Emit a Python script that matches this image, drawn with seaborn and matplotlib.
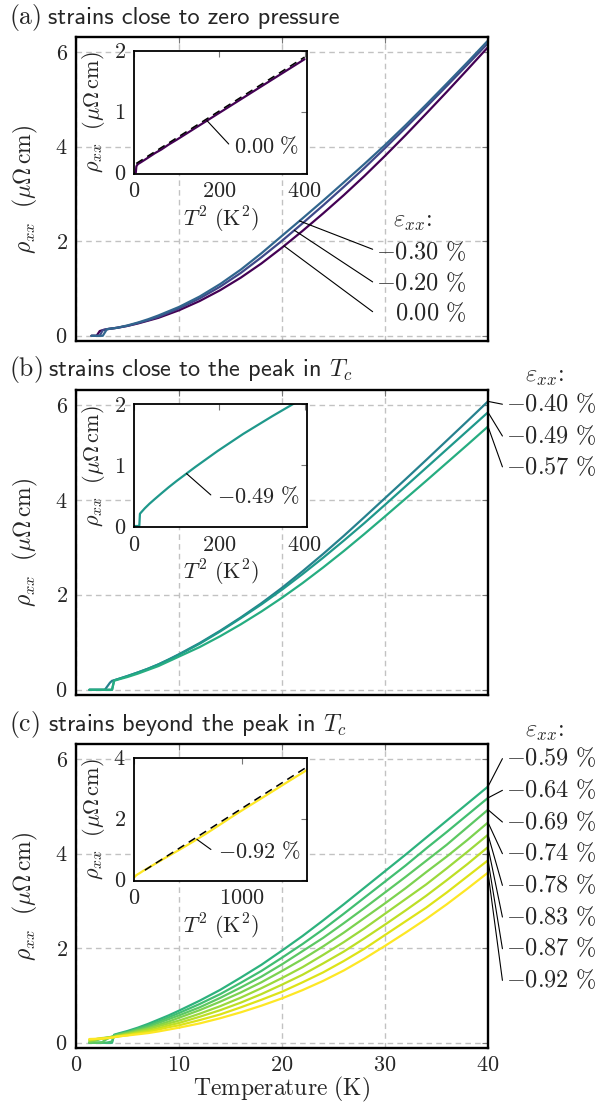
import numpy as np
import pandas as pd
import matplotlib
matplotlib.use("Agg")
import matplotlib.pyplot as plt
import seaborn as sns
from matplotlib.ticker import FixedLocator, FuncFormatter

# ---------------- data ----------------
# panel (a): strains close to zero pressure
T_a = [1.5, 2.0, 2.3, 2.6, 3.0, 4, 5, 6, 7, 8, 9, 10, 12, 14, 16, 18, 20,
       22, 24, 26, 28, 30, 32, 34, 36, 38, 40]
strains_a = [0.00, -0.20, -0.30]
rho_a_000 = [0, 0, 0.10, 0.12, 0.14, 0.17, 0.21, 0.26, 0.32, 0.38, 0.46, 0.54,
             0.735, 0.965, 1.23, 1.53, 1.865, 2.22, 2.59, 2.975, 3.38, 3.805,
             4.245, 4.70, 5.16, 5.63, 6.105]
rho_a_020 = [0, 0, 0, 0.12, 0.14, 0.17, 0.21, 0.27, 0.33, 0.40, 0.49, 0.58,
             0.79, 1.04, 1.33, 1.66, 2.01, 2.38, 2.76, 3.15, 3.55, 3.97, 4.40,
             4.84, 5.285, 5.735, 6.19]
rho_a_030 = [0, 0, 0, 0, 0.14, 0.17, 0.22, 0.28, 0.35, 0.43, 0.52, 0.61,
             0.83, 1.095, 1.40, 1.745, 2.115, 2.485, 2.86, 3.245, 3.635, 4.035,
             4.455, 4.89, 5.335, 5.785, 6.245]
fit_a_x = [5, 400]
fit_a_y = [0.15, 1.90]

# panel (b): strains close to the peak in Tc
T_b = [1.3, 2.0, 2.5, 2.8, 3.0, 3.3, 3.5, 3.7, 4, 5, 6, 7, 8, 9, 10, 12, 14,
       16, 18, 20, 22, 24, 26, 28, 30, 32, 34, 36, 38, 40]
strains_b = [-0.40, -0.49, -0.57]
rho_b_040 = [0, 0, 0, 0, 0.06, 0.15, 0.19, 0.20, 0.22, 0.29, 0.365, 0.445,
             0.535, 0.64, 0.75, 0.985, 1.245, 1.525, 1.825, 2.15, 2.50, 2.865,
             3.245, 3.64, 4.04, 4.44, 4.845, 5.255, 5.665, 6.08]
rho_b_049 = [0, 0, 0, 0, 0, 0, 0, 0.20, 0.22, 0.29, 0.365, 0.445, 0.535, 0.635,
             0.74, 0.97, 1.23, 1.51, 1.80, 2.11, 2.44, 2.785, 3.145, 3.515,
             3.90, 4.29, 4.68, 5.07, 5.46, 5.85]
rho_b_057 = [0, 0, 0, 0, 0, 0, 0, 0.19, 0.21, 0.27, 0.34, 0.42, 0.50, 0.60,
             0.70, 0.90, 1.13, 1.38, 1.65, 1.94, 2.25, 2.58, 2.925, 3.285,
             3.655, 4.03, 4.405, 4.785, 5.165, 5.55]

# panel (c): strains beyond the peak in Tc
T_c = [1.3, 2.0, 2.5, 3.0, 3.5, 3.7, 4, 5, 6, 7, 8, 9, 10, 12, 14, 16, 18, 20,
       22, 24, 26, 28, 30, 32, 34, 36, 38, 40]
strains_c = [-0.59, -0.64, -0.69, -0.74, -0.78, -0.83, -0.87, -0.92]
rho_c_059 = [0, 0, 0, 0, 0, 0.17, 0.19, 0.25, 0.32, 0.40, 0.49, 0.58, 0.68,
             0.89, 1.12, 1.38, 1.65, 1.95, 2.26, 2.59, 2.93, 3.28, 3.63, 3.98,
             4.34, 4.70, 5.06, 5.42]
rho_c_064 = [0, 0, 0, 0, 0.03, 0.16, 0.18, 0.23, 0.30, 0.37, 0.45, 0.54, 0.63,
             0.82, 1.03, 1.27, 1.52, 1.80, 2.09, 2.40, 2.73, 3.07, 3.41, 3.75,
             4.11, 4.46, 4.82, 5.18]
rho_c_069 = [0, 0, 0.01, 0.08, 0.13, 0.15, 0.17, 0.22, 0.28, 0.34, 0.42, 0.50,
             0.58, 0.75, 0.95, 1.17, 1.40, 1.66, 1.94, 2.22, 2.53, 2.85, 3.18,
             3.51, 3.85, 4.19, 4.56, 4.93]
rho_c_074 = [0.02, 0.05, 0.09, 0.11, 0.13, 0.14, 0.16, 0.21, 0.26, 0.31, 0.38,
             0.45, 0.53, 0.69, 0.87, 1.065, 1.28, 1.52, 1.77, 2.04, 2.33, 2.64,
             2.95, 3.27, 3.61, 3.94, 4.29, 4.66]
rho_c_078 = [0.04, 0.08, 0.10, 0.11, 0.12, 0.13, 0.145, 0.19, 0.24, 0.29,
             0.35, 0.41, 0.47, 0.615, 0.775, 0.955, 1.155, 1.37, 1.60, 1.86,
             2.13, 2.42, 2.73, 3.04, 3.35, 3.69, 4.04, 4.40]
rho_c_083 = [0.06, 0.08, 0.09, 0.10, 0.11, 0.12, 0.135, 0.18, 0.22, 0.26,
             0.31, 0.37, 0.42, 0.55, 0.69, 0.85, 1.03, 1.23, 1.44, 1.68, 1.93,
             2.21, 2.50, 2.80, 3.11, 3.44, 3.78, 4.14]
rho_c_087 = [0.07, 0.08, 0.09, 0.10, 0.11, 0.12, 0.13, 0.16, 0.20, 0.23, 0.28,
             0.33, 0.37, 0.48, 0.60, 0.75, 0.91, 1.08, 1.28, 1.49, 1.73, 1.99,
             2.28, 2.57, 2.86, 3.18, 3.52, 3.86]
rho_c_092 = [0.08, 0.085, 0.09, 0.10, 0.11, 0.12, 0.135, 0.155, 0.18, 0.205,
             0.24, 0.28, 0.32, 0.41, 0.52, 0.645, 0.785, 0.94, 1.115, 1.31,
             1.53, 1.78, 2.05, 2.33, 2.62, 2.93, 3.26, 3.60]
fit_c_x = [100, 1600]
fit_c_y = [0.31, 3.70]

titles = ["strains close to zero pressure",
          r"strains close to the peak in $T_c$",
          r"strains beyond the peak in $T_c$"]
panel_tags = ["(a)", "(b)", "(c)"]
main_xticks = [0, 10, 20, 30, 40]
main_yticks = [0, 2, 4, 6]

# ---------------- helpers ----------------
def long_df(T, strains, series):
    rows = []
    for s, r in zip(strains, series):
        for t, v in zip(T, r):
            rows.append({"T": t, "T2": t * t, "rho": v, "strain": f"{s:.2f}"})
    return pd.DataFrame(rows)

df_a = long_df(T_a, strains_a, [rho_a_000, rho_a_020, rho_a_030])
df_b = long_df(T_b, strains_b, [rho_b_040, rho_b_049, rho_b_057])
df_c = long_df(T_c, strains_c, [rho_c_059, rho_c_064, rho_c_069, rho_c_074,
                                rho_c_078, rho_c_083, rho_c_087, rho_c_092])

cmap = plt.get_cmap("viridis")
palette = {f"{s:.2f}": cmap(abs(s) / 0.92)
           for s in strains_a + strains_b + strains_c}

sns.set_theme(style="white")
plt.rcParams.update({
    "font.family": ["cmss10", "DejaVu Sans"],
    "mathtext.fontset": "cm",
    "axes.formatter.use_mathtext": True,
})

W, H = 603, 1107
fig = plt.figure(figsize=(W / 100, H / 100), dpi=100)

mfmt = FuncFormatter(lambda v, p: rf"${v:g}$")
TICK_FS = 16
LAB_FS = 17
ANN_FS = 17.5
INS_FS = 16

def px_axes(left, top, right, bottom):
    return fig.add_axes([left / W, 1 - bottom / H, (right - left) / W,
                         (bottom - top) / H])

def style_main(ax, show_x):
    ax.set_xlim(0, 40)
    ax.set_ylim(-0.11, 6.32)
    ax.xaxis.set_major_locator(FixedLocator(main_xticks))
    ax.yaxis.set_major_locator(FixedLocator(main_yticks))
    ax.xaxis.set_major_formatter(mfmt)
    ax.yaxis.set_major_formatter(mfmt)
    ax.grid(True, color="#c2c2c2", lw=1.0, ls=(0, (4, 3)))
    ax.set_axisbelow(True)
    for sp in ax.spines.values():
        sp.set_linewidth(1.7)
        sp.set_color("black")
    ax.tick_params(direction="in", length=4, width=0.8, color="#777777",
                   top=True, right=True, labelsize=TICK_FS, pad=6,
                   labelbottom=show_x)
    ax.set_ylabel(r"$\rho_{xx}\ \ (\mu\Omega\,\mathrm{cm})$", fontsize=LAB_FS)
    ax.yaxis.set_label_coords(-0.088, 0.5)
    ax.set_xlabel("")

def style_inset(ax, xmax, ymax, xt, yt):
    ax.set_xlim(0, xmax)
    ax.set_ylim(-0.02 * ymax / 2, ymax)
    ax.set_facecolor("white")
    ax.xaxis.set_major_locator(FixedLocator(xt))
    ax.yaxis.set_major_locator(FixedLocator(yt))
    ax.xaxis.set_major_formatter(mfmt)
    ax.yaxis.set_major_formatter(mfmt)
    ax.grid(False)
    for sp in ax.spines.values():
        sp.set_linewidth(1.3)
        sp.set_color("black")
    ax.tick_params(direction="in", length=4, width=0.8, color="#777777",
                   top=True, right=True, labelsize=INS_FS, pad=6)
    ax.set_xlabel(r"$T^2\ (\mathrm{K}^2)$", fontsize=INS_FS)
    ax.set_ylabel(r"$\rho_{xx}\ \ (\mu\Omega\,\mathrm{cm})$", fontsize=INS_FS)
    ax.xaxis.set_label_coords(0.5, -0.25)
    ax.yaxis.set_label_coords(-0.155, 0.5)

def leader(ax, p0, p1):
    ax.annotate("", xy=p0, xytext=p1,
                arrowprops=dict(arrowstyle="-", color="black", lw=0.8,
                                shrinkA=0, shrinkB=0),
                annotation_clip=False)

axes = [px_axes(76, 37, 488, 341), px_axes(76, 390, 488, 695),
        px_axes(76, 744, 488, 1048)]
baselines = [24, 376, 731]
for ax, tag, title, bl in zip(axes, panel_tags, titles, baselines):
    fig.text(9 / W, 1 - bl / H, rf"$\mathrm{{{tag}}}$", fontsize=ANN_FS + 1,
             va="baseline", ha="left")
    fig.text(48 / W, 1 - bl / H, title, fontsize=ANN_FS, va="baseline",
             ha="left", family="cmss10")

# ---- panel (a) ----
ax = axes[0]
sns.lineplot(data=df_a, x="T", y="rho", hue="strain", palette=palette,
             ax=ax, legend=False, lw=1.6, sort=False, estimator=None)
style_main(ax, False)
series_a = [rho_a_000, rho_a_020, rho_a_030]
anchor_T = [20.2, 21.2, 21.7]
line_end_y = [0.51, 1.14, 1.83]
label_y = [0.48, 1.12, 1.77]
for s, r, ta, ly, ty in zip(strains_a, series_a, anchor_T, line_end_y, label_y):
    leader(ax, (ta, np.interp(ta, T_a, r)), (28.8, ly))
    ax.text(37.9, ty, rf"${s:.2f}\ \%$" if s != 0 else r"$0.00\ \%$",
            fontsize=ANN_FS, ha="right", va="center")
ax.text(32.7, 2.41, r"$\varepsilon_{xx}$:", family="cmr10", fontsize=ANN_FS,
        ha="center", va="center")

ins = ax.inset_axes([0.141, 0.55, 0.419, 0.404])
ins_df = df_a[(df_a.strain == "0.00") & (df_a["T"] <= 20)]
sns.lineplot(data=ins_df, x="T2", y="rho", color=palette["0.00"], ax=ins,
             lw=1.6, sort=False, estimator=None)
sns.lineplot(x=fit_a_x, y=fit_a_y, ax=ins, color="black", lw=1.1,
             ls=(0, (5, 3.5)))
style_inset(ins, 405, 2, [0, 200, 400], [0, 1, 2])
leader(ins, (171, np.interp(171, np.array(T_a) ** 2, rho_a_000)), (222, 0.47))
ins.text(235, 0.43, r"$0.00\ \%$", fontsize=INS_FS, ha="left", va="center")

# ---- panel (b) ----
ax = axes[1]
sns.lineplot(data=df_b, x="T", y="rho", hue="strain", palette=palette,
             ax=ax, legend=False, lw=1.6, sort=False, estimator=None)
style_main(ax, False)
series_b = [rho_b_040, rho_b_049, rho_b_057]
lab_b = [6.02, 5.35, 4.70]
for s, r, ly in zip(strains_b, series_b, lab_b):
    leader(ax, (40, r[-1]), (41.4, ly))
    ax.text(41.75, ly, rf"${s:.2f}\ \%$", fontsize=ANN_FS, ha="left",
            va="center", clip_on=False)
ax.text(45.5, 6.6, r"$\varepsilon_{xx}$:", family="cmr10", fontsize=ANN_FS,
        ha="center", va="center", clip_on=False)

ins = ax.inset_axes([0.141, 0.55, 0.419, 0.404])
ins_df = df_b[(df_b.strain == "-0.49") & (df_b["T"] <= 20)]
sns.lineplot(data=ins_df, x="T2", y="rho", color=palette["-0.49"], ax=ins,
             lw=1.6, sort=False, estimator=None)
style_inset(ins, 405, 2, [0, 200, 400], [0, 1, 2])
leader(ins, (123, np.interp(123, np.array(T_b) ** 2, rho_b_049)), (180, 0.51))
ins.text(195, 0.48, r"$-0.49\ \%$", fontsize=INS_FS, ha="left", va="center")

# ---- panel (c) ----
ax = axes[2]
sns.lineplot(data=df_c, x="T", y="rho", hue="strain", palette=palette,
             ax=ax, legend=False, lw=1.6, sort=False, estimator=None)
style_main(ax, True)
ax.set_xlabel(r"$\mathrm{Temperature\ (K)}$", fontsize=LAB_FS)
ax.xaxis.set_label_coords(0.5, -0.09)
series_c = [rho_c_059, rho_c_064, rho_c_069, rho_c_074, rho_c_078, rho_c_083,
            rho_c_087, rho_c_092]
for i, (s, r) in enumerate(zip(strains_c, series_c)):
    ly = 6.01 - 0.67 * i
    leader(ax, (40, r[-1]), (41.4, ly))
    ax.text(41.75, ly, rf"${s:.2f}\ \%$", fontsize=ANN_FS, ha="left",
            va="center", clip_on=False)
ax.text(45.5, 6.57, r"$\varepsilon_{xx}$:", family="cmr10", fontsize=ANN_FS,
        ha="center", va="center", clip_on=False)

ins = ax.inset_axes([0.141, 0.55, 0.419, 0.404])
ins_df = df_c[df_c.strain == "-0.92"]
sns.lineplot(data=ins_df, x="T2", y="rho", color=palette["-0.92"], ax=ins,
             lw=1.6, sort=False, estimator=None)
sns.lineplot(x=fit_c_x, y=fit_c_y, ax=ins, color="black", lw=1.1,
             ls=(0, (5, 3.5)))
style_inset(ins, 1600, 4, [0, 1000], [0, 2, 4])
leader(ins, (582, np.interp(582, np.array(T_c) ** 2, rho_c_092)), (712, 0.99))
ins.text(777, 0.92, r"$-0.92\ \%$", fontsize=INS_FS, ha="left", va="center")

fig.savefig("out.png", dpi=100)
